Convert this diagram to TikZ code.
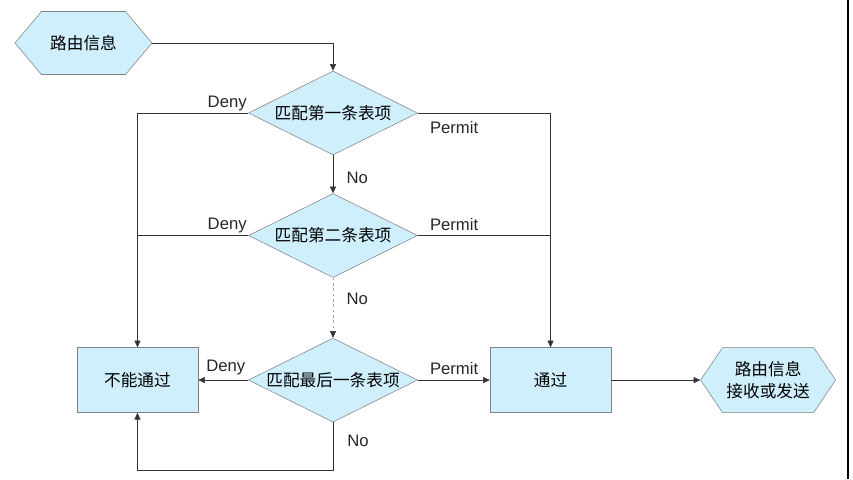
\documentclass[tikz,border=0pt]{standalone}
\usepackage{fontspec}
\setmainfont{Liberation Sans}
\newfontfamily\cjk{Noto Sans CJK SC}
\usetikzlibrary{arrows.meta, positioning, shapes.geometric, shapes.symbols}
\definecolor{boxfill}{HTML}{CFEFFD}
\definecolor{boxline}{HTML}{808080}
\definecolor{wire}{HTML}{333333}

\begin{document}
\begin{tikzpicture}[
    x=0.75pt, y=-0.75pt,
    font=\fontsize{12.5}{15}\selectfont,
    box/.style={rectangle, draw=boxline, fill=boxfill, minimum width=90.75pt,
                minimum height=48.75pt, inner sep=0pt, font=\fontsize{12.5}{15}\selectfont\cjk},
    check/.style={diamond, aspect=2, draw=boxline, fill=boxfill, minimum width=126.75pt,
                  minimum height=63pt, inner sep=0pt, font=\fontsize{12.5}{15}\selectfont\cjk},
    hexa/.style={signal, signal to=east and west, draw=boxline, fill=boxfill, inner sep=0pt,
                 align=center, font=\fontsize{12.5}{16}\selectfont\cjk},
    arr/.style={-{Triangle[length=5pt, width=4.5pt]}, draw=wire},
    dotarr/.style={-{Triangle[length=5pt, width=4.5pt, color=wire]}, draw=gray!70,
                   dash pattern=on 2pt off 2pt},
    lbl/.style={inner sep=1pt, text=black!85}
  ]
  \useasboundingbox (0,0) rectangle (853,479);
  \node[hexa, signal pointer angle=100, minimum width=102.75pt, minimum height=47.25pt] (src) at (83.5,43) {路由信息};
  \node[check] (m1) at (333,113) {匹配第一条表项};
  \node[check, below=28.5pt of m1] (m2) {匹配第二条表项};
  \node[check, below=45pt of m2] (m3) {匹配最后一条表项};
  \node[box, left=37.5pt of m3] (reject) {不能通过};
  \node[box, right=54pt of m3] (accept) {通过};
  \node[hexa, signal pointer angle=112, minimum width=101.25pt, minimum height=48.75pt,
        right=66.75pt of accept] (out) {路由信息\\接收或发送};
  \coordinate[below=36pt of m3.south] (back);

  % first entry
  \draw[arr] (src.east) -| (m1.north);
  \draw[arr] (m1.west) -| (reject.north);
  \node[lbl, above left=0pt and 0pt of m1.west] (deny1) {Deny};
  \draw[arr] (m1.east) -| (accept.north);
  \node[lbl, below right=5pt and 8pt of m1.east] (permit1) {Permit};
  \draw[arr] (m1.south) -- node[lbl, right=9pt, yshift=-2.5pt] (no1) {No} (m2.north);

  % second entry
  \draw[wire] (m2.west) -- (m2.west -| reject.north);
  \node[lbl, above left=1pt and 0pt of m2.west] (deny2) {Deny};
  \draw[wire] (m2.east) -- (m2.east -| accept.north);
  \node[lbl, above right=2.5pt and 8pt of m2.east] (permit2) {Permit};
  \draw[dotarr] (m2.south) -- node[lbl, right=9pt, pos=0.35] (no2) {No} (m3.north);

  % last entry
  \draw[arr] (m3.west) -- (reject.east);
  \node[lbl, above left=2.5pt and 1pt of m3.west] (deny3) {Deny};
  \draw[arr] (m3.east) -- (accept.west);
  \node[lbl, above right=2.5pt and 8pt of m3.east] (permit3) {Permit};
  \draw[arr] (m3.south) -- (back) -| (reject.south);
  \node[lbl, below right=8pt and 9.5pt of m3.south] (no3) {No};

  \draw[arr] (accept.east) -- (out.west);
  \draw[black, line width=1.2pt] (848,0) -- (848,479);
\end{tikzpicture}
\end{document}
